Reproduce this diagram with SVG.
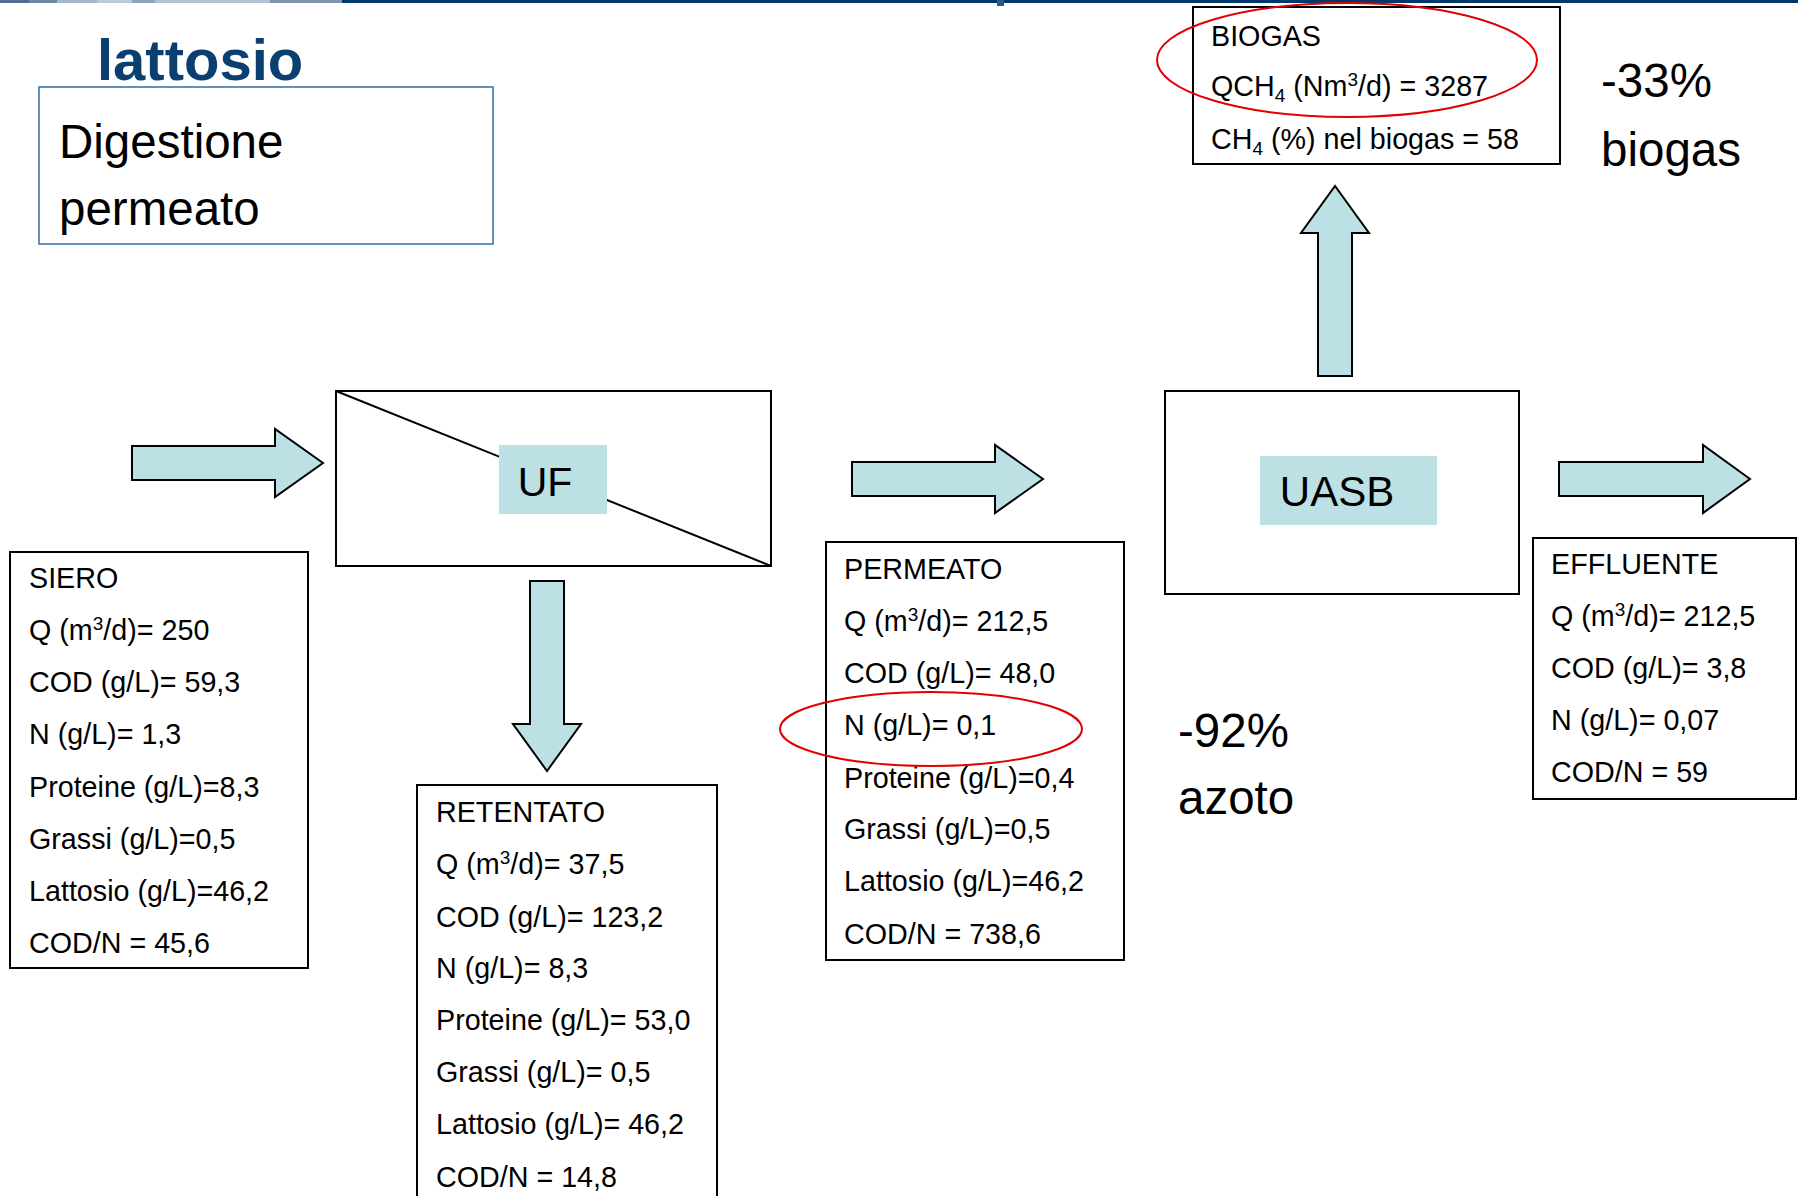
<svg xmlns="http://www.w3.org/2000/svg" width="1798" height="1196" viewBox="0 0 1798 1196">
<style>
.box{fill:none;stroke:#000;stroke-width:2}
.arrow{fill:#BCE0E3;stroke:#000;stroke-width:2;stroke-linejoin:miter}
.lbl{fill:#BCE0E3}
.ell{fill:none;stroke:#E30000;stroke-width:2}
.t{font-family:"Liberation Sans",Arial,sans-serif;font-size:28.7px;fill:#000}
.big{font-family:"Liberation Sans",Arial,sans-serif;font-size:47.5px;fill:#000}
.sm{font-size:19px}
</style>
<rect x="0" y="0" width="1798" height="1196" fill="#fff"/>
<g id="topband">
<rect x="0" y="0" width="1798" height="3" fill="#003A6B"/>
<rect x="0" y="0" width="29" height="3" fill="#4E6E93"/>
<rect x="29" y="0" width="28" height="3" fill="#6A87A8"/>
<rect x="57" y="0" width="40" height="3" fill="#A5B7CB"/>
<rect x="97" y="0" width="35" height="3" fill="#BCCAD9"/>
<rect x="132" y="0" width="23" height="3" fill="#8FA5BD"/>
<rect x="155" y="0" width="115" height="3" fill="#B3C2D3"/>
<rect x="270" y="0" width="72" height="3" fill="#7D95AF"/>
<rect x="997" y="0" width="7" height="6" fill="#2C5A87"/>
</g>
<g id="title">
<text x="97" y="80" font-family="Liberation Sans,Arial,sans-serif" font-weight="bold" font-size="58" fill="#0B3F70">lattosio</text>
</g>
<g id="subtitle">
<rect x="39" y="87" width="454" height="157" fill="none" stroke="#2F6EA5" stroke-width="1.5"/>
<text class="big" x="59" y="158">Digestione</text>
<text class="big" x="59" y="225">permeato</text>
</g>
<g id="connectors">
<polygon class="arrow" points="132,446 275,446 275,429 323,463 275,497 275,480 132,480"/>
<polygon class="arrow" points="530,581 564,581 564,724 581,724 547,771 513,724 530,724"/>
<polygon class="arrow" points="852,462 995,462 995,445 1043,479 995,513 995,496 852,496"/>
<polygon class="arrow" points="1318,376 1318,233 1301,233 1335,186 1369,233 1352,233 1352,376"/>
<polygon class="arrow" points="1559,462 1703,462 1703,445 1750,479 1703,513 1703,496 1559,496"/>
</g>
<g id="uf">
<rect class="box" x="336" y="391" width="435" height="175" fill="#fff"/>
<line x1="336" y1="391" x2="771" y2="566" stroke="#000" stroke-width="2"/>
<rect class="lbl" x="499" y="445" width="108" height="69"/>
<text class="t" x="545" y="496" text-anchor="middle" style="font-size:41px">UF</text>
</g>
<g id="uasb">
<rect class="box" x="1165" y="391" width="354" height="203"/>
<rect class="lbl" x="1260" y="456" width="177" height="69"/>
<text class="t" x="1337" y="506" text-anchor="middle" style="font-size:42px">UASB</text>
</g>
<g id="siero">
<rect class="box" x="10" y="552" width="298" height="416"/>
<text class="t" x="29" y="588">SIERO</text>
<text class="t" x="29" y="640">Q (m<tspan class="sm" dy="-10">3</tspan><tspan dy="10">/d)= 250</tspan></text>
<text class="t" x="29" y="692">COD (g/L)= 59,3</text>
<text class="t" x="29" y="744">N (g/L)= 1,3</text>
<text class="t" x="29" y="797">Proteine (g/L)=8,3</text>
<text class="t" x="29" y="849">Grassi (g/L)=0,5</text>
<text class="t" x="29" y="901">Lattosio (g/L)=46,2</text>
<text class="t" x="29" y="953">COD/N = 45,6</text>
</g>
<g id="retentato">
<rect class="box" x="417" y="785" width="300" height="430"/>
<text class="t" x="436" y="822">RETENTATO</text>
<text class="t" x="436" y="874">Q (m<tspan class="sm" dy="-10">3</tspan><tspan dy="10">/d)= 37,5</tspan></text>
<text class="t" x="436" y="927">COD (g/L)= 123,2</text>
<text class="t" x="436" y="978">N (g/L)= 8,3</text>
<text class="t" x="436" y="1030">Proteine (g/L)= 53,0</text>
<text class="t" x="436" y="1082">Grassi (g/L)= 0,5</text>
<text class="t" x="436" y="1134">Lattosio (g/L)= 46,2</text>
<text class="t" x="436" y="1187">COD/N = 14,8</text>
</g>
<g id="permeato">
<rect class="box" x="826" y="542" width="298" height="418"/>
<text class="t" x="844" y="579">PERMEATO</text>
<text class="t" x="844" y="631">Q (m<tspan class="sm" dy="-10">3</tspan><tspan dy="10">/d)= 212,5</tspan></text>
<text class="t" x="844" y="683">COD (g/L)= 48,0</text>
<text class="t" x="844" y="735">N (g/L)= 0,1</text>
<text class="t" x="844" y="788">Proteine (g/L)=0,4</text>
<text class="t" x="844" y="839">Grassi (g/L)=0,5</text>
<text class="t" x="844" y="891">Lattosio (g/L)=46,2</text>
<text class="t" x="844" y="944">COD/N = 738,6</text>
<ellipse class="ell" cx="931" cy="729" rx="151" ry="37"/>
</g>
<g id="effluente">
<rect class="box" x="1533" y="538" width="263" height="261"/>
<text class="t" x="1551" y="574">EFFLUENTE</text>
<text class="t" x="1551" y="626">Q (m<tspan class="sm" dy="-10">3</tspan><tspan dy="10">/d)= 212,5</tspan></text>
<text class="t" x="1551" y="678">COD (g/L)= 3,8</text>
<text class="t" x="1551" y="730">N (g/L)= 0,07</text>
<text class="t" x="1551" y="782">COD/N = 59</text>
</g>
<g id="biogas">
<rect class="box" x="1193" y="7" width="367" height="157"/>
<text class="t" x="1211" y="46">BIOGAS</text>
<text class="t" x="1211" y="96">QCH<tspan class="sm" dy="6">4</tspan><tspan dy="-6"> (Nm</tspan><tspan class="sm" dy="-10">3</tspan><tspan dy="10">/d) = 3287</tspan></text>
<text class="t" x="1211" y="149">CH<tspan class="sm" dy="6">4</tspan><tspan dy="-6"> (%) nel biogas = 58</tspan></text>
<ellipse class="ell" cx="1347" cy="60" rx="190" ry="57"/>
</g>
<g id="notes">
<text class="big" x="1601" y="97">-33%</text>
<text class="big" x="1601" y="166">biogas</text>
<text class="big" x="1178" y="747">-92%</text>
<text class="big" x="1178" y="814">azoto</text>
</g>
</svg>
